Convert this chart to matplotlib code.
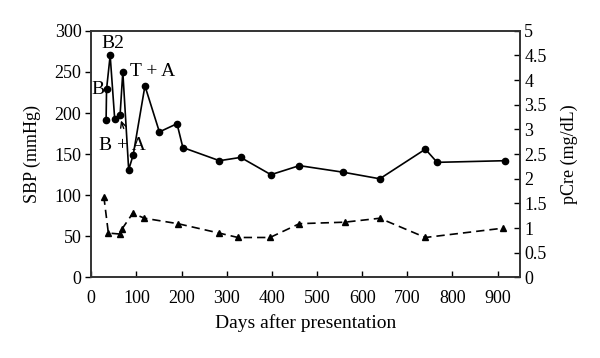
import matplotlib.pyplot as plt

plt.rcParams['font.family'] = ['Liberation Serif', 'DejaVu Serif']

# systolic blood pressure (mmHg)
sbp_days = [33, 34, 42, 52, 64, 70, 83, 93, 119, 151, 190, 203, 284, 331,
            398, 461, 558, 639, 740, 766, 916]
sbp = [192, 229, 270, 193, 198, 250, 131, 149, 233, 177, 187, 158, 142, 146,
       125, 136, 128, 120, 156, 140, 142]

# plasma creatinine (mg/dL)
cre_days = [28, 38, 63, 68, 92, 118, 192, 283, 325, 396, 461, 561, 639, 740, 913]
cre = [1.64, 0.9, 0.88, 0.98, 1.3, 1.2, 1.09, 0.9, 0.81, 0.81, 1.09, 1.12,
       1.2, 0.81, 1.0]

fig = plt.figure(figsize=(6, 3.58), dpi=100)
ax = fig.add_axes([0.152, 0.225, 0.715, 0.689])
ax2 = ax.twinx()

ax.plot(sbp_days, sbp, '-', color='black', marker='o', markersize=4.5, lw=1.2)
ax2.plot(cre_days, cre, '--', color='black', marker='^', markersize=5, lw=1.2,
         dashes=(5, 3))

ax.set_xlim(0, 950)
ax.set_ylim(0, 300)
ax2.set_ylim(0, 5)
ax.set_xticks(range(0, 1000, 100))
ax.set_yticks(range(0, 301, 50))
ax2.set_yticks([0, 0.5, 1, 1.5, 2, 2.5, 3, 3.5, 4, 4.5, 5])
ax2.set_yticklabels(['0', '0.5', '1', '1.5', '2', '2.5', '3', '3.5', '4', '4.5', '5'])

for a in (ax, ax2):
    for s in a.spines.values():
        s.set_linewidth(1.2)
        s.set_color('#333333')
ax.tick_params(axis='x', direction='in', labelsize=13, length=4, width=1, pad=9)
ax.tick_params(axis='y', direction='out', labelsize=13, length=4, width=1, pad=3)
ax2.tick_params(axis='y', direction='in', labelsize=13, length=4, width=1, pad=3)

ax.set_xlabel('Days after presentation', fontsize=14, labelpad=5)
ax.set_ylabel('SBP (mmHg)', fontsize=13, labelpad=10)
ax2.set_ylabel('pCre (mg/dL)', fontsize=13, labelpad=10)

ax.text(15, 229, 'B', fontsize=14, ha='center', va='center')
ax.text(48, 284, 'B2', fontsize=14, ha='center', va='center')
ax.text(135, 250, 'T + A', fontsize=14, ha='center', va='center')
ax.text(70, 161, 'B + A', fontsize=14, ha='center', va='center')
ax.annotate('', xy=(64, 194), xytext=(74, 178),
            arrowprops=dict(arrowstyle='->', color='black', lw=1))

fig.savefig('out.png', dpi=100)
